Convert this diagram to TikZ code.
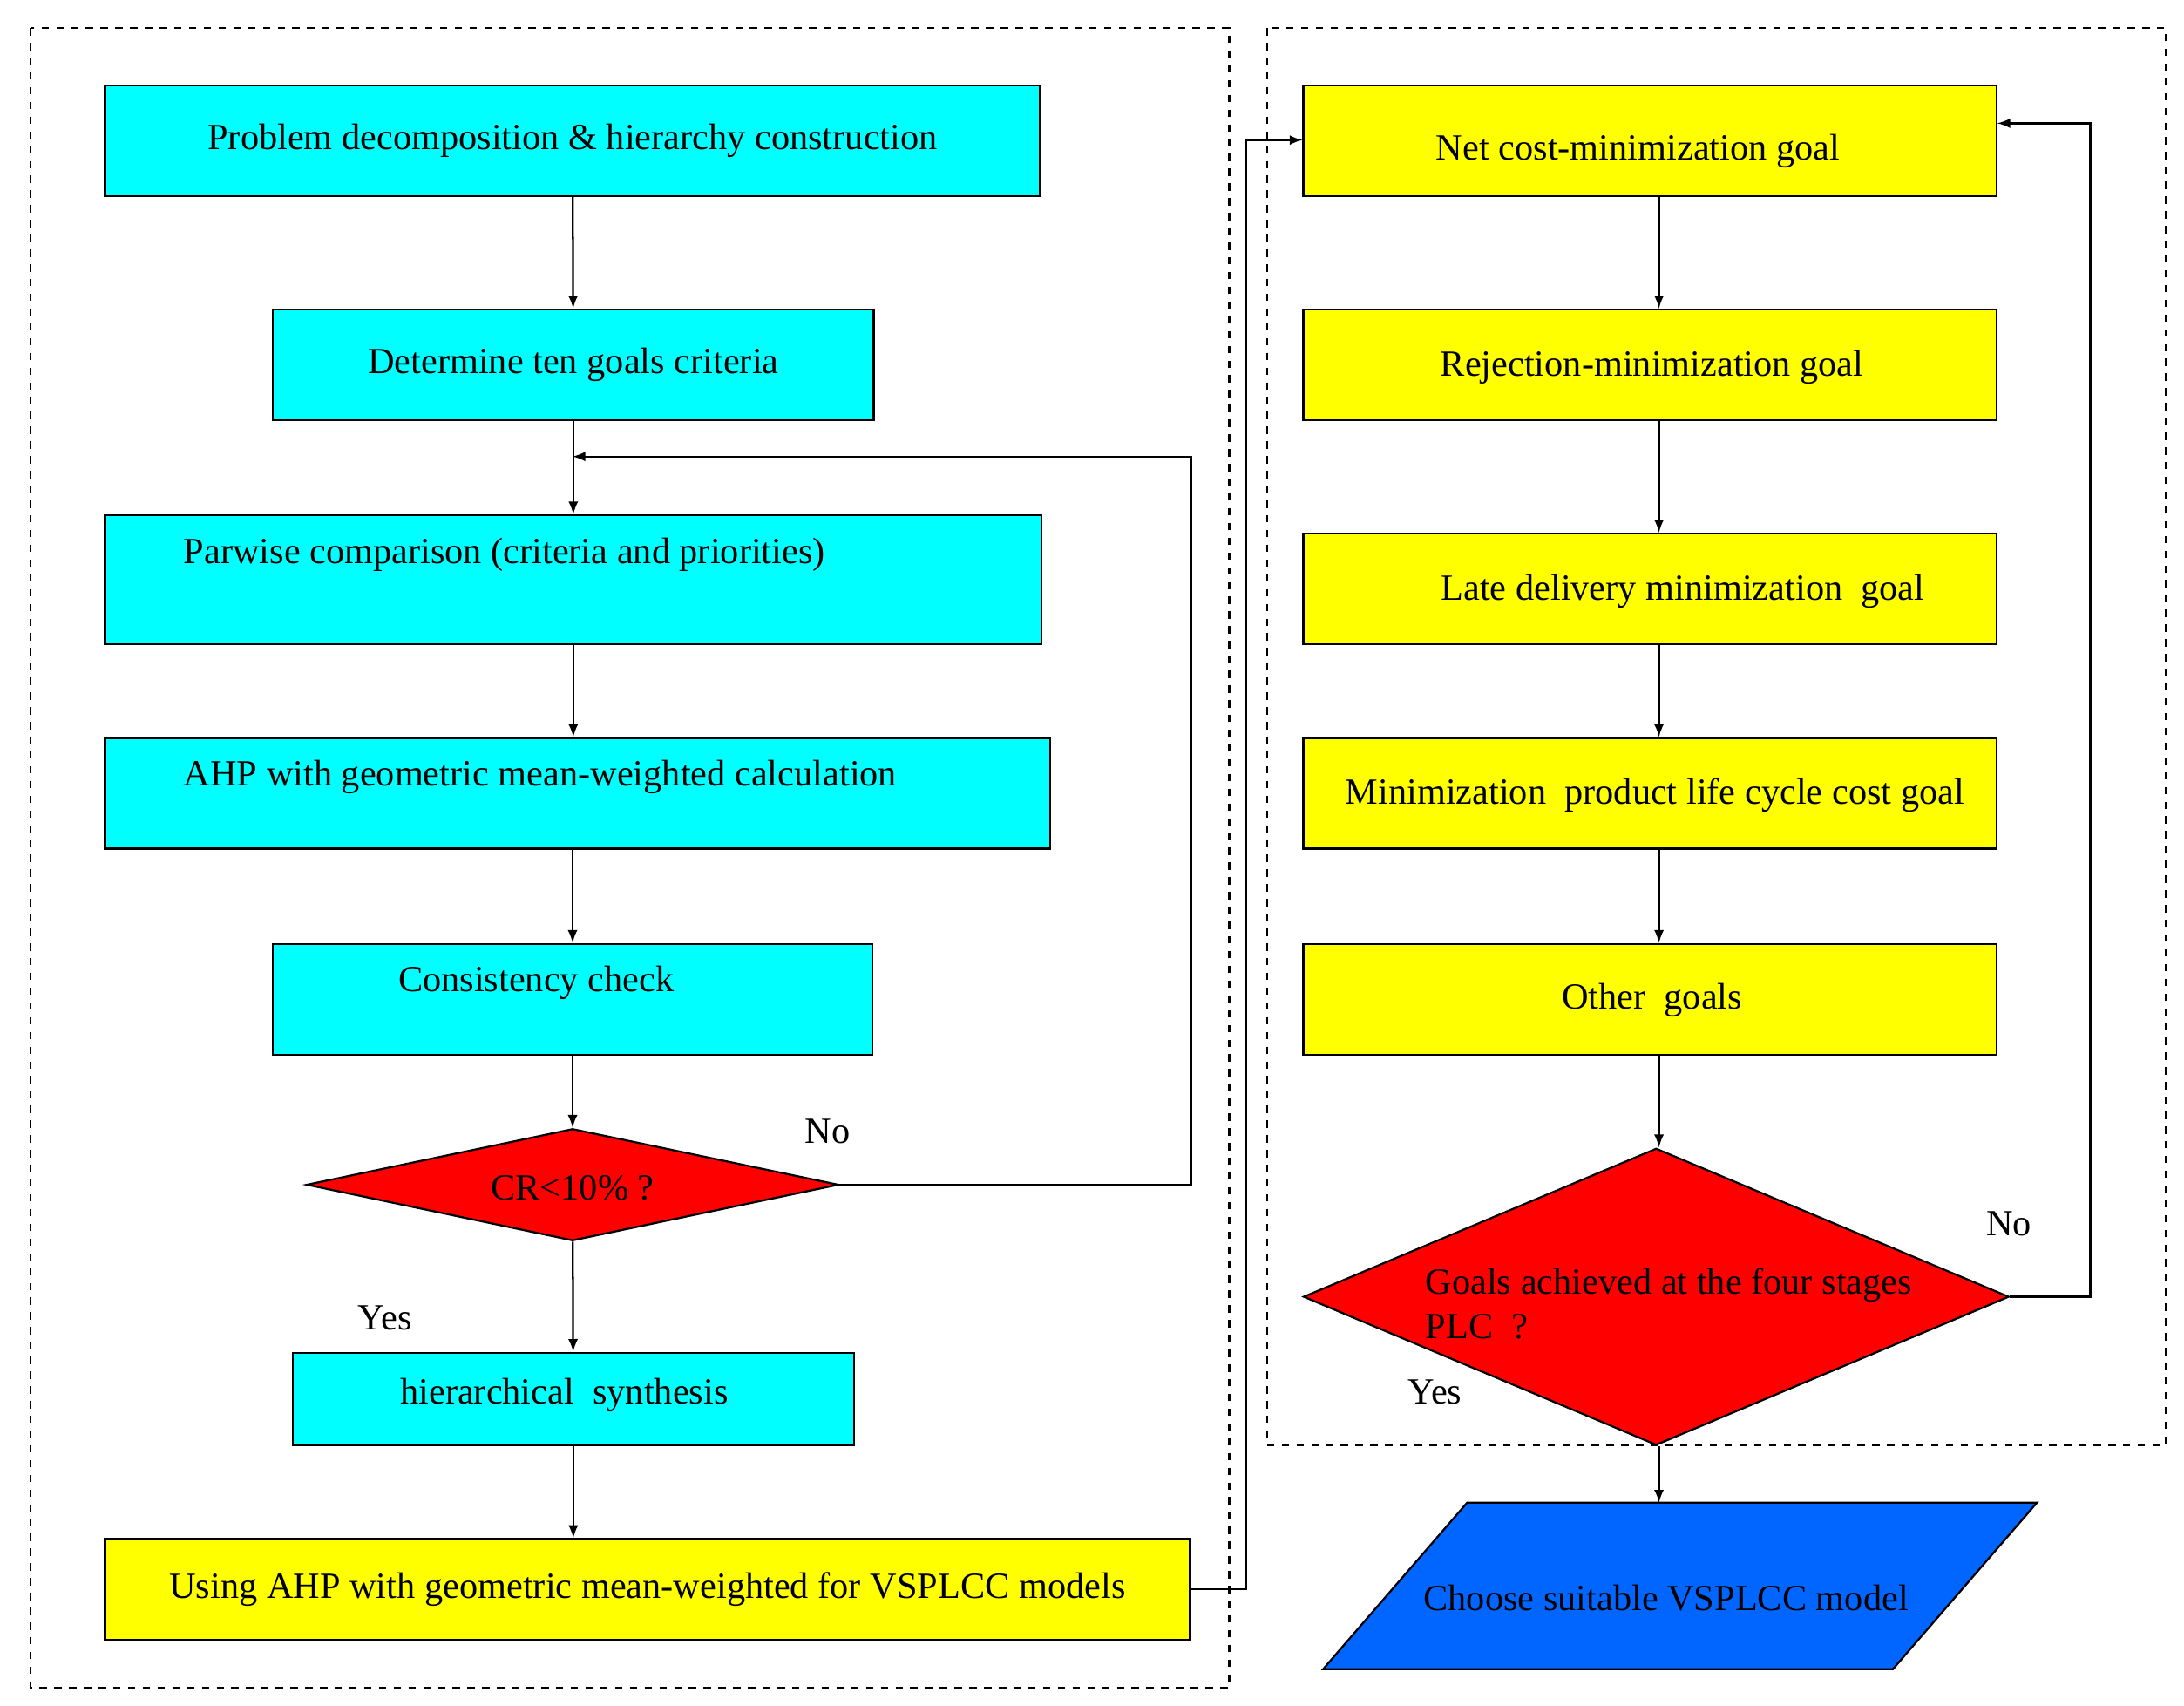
\documentclass[tikz,border=0pt]{standalone}
\usepackage{fontspec}
\setmainfont{Liberation Serif}
\usetikzlibrary{arrows, shapes.geometric, calc}
\definecolor{flow-cyan}{RGB}{0,255,255}
\definecolor{flow-yellow}{RGB}{255,255,0}
\definecolor{flow-red}{RGB}{255,0,0}
\definecolor{flow-blue}{RGB}{0,102,255}

\begin{document}
\begin{tikzpicture}[x=0.02cm, y=-0.02cm,
	every node/.style={font=\fontsize{15}{18}\selectfont},
	box/.style={draw, thick, inner sep=0pt},
	link/.style={->, >=latex, thick},
	frame/.style={draw, thick, dashed}]
	\useasboundingbox (0,0) rectangle (1560,1218);
	% frames
	\draw[frame] (22,20) rectangle (878,1205);
	\draw[frame] (905,20) rectangle (1547,1032);
	% left column
	\node[box, fill=flow-cyan, minimum width=668*0.02cm, minimum height=79*0.02cm] (decomp) at (409,100.5) {Problem decomposition \& hierarchy construction};
	\node[box, fill=flow-cyan, minimum width=429*0.02cm, minimum height=79*0.02cm] (criteria) at (409.5,260.5) {Determine ten goals criteria};
	\node[box, fill=flow-cyan, minimum width=669*0.02cm, minimum height=92*0.02cm] (pairwise) at (409.5,414) {};
	\node[anchor=west] at (125,396) {Parwise comparison (criteria and priorities)};
	\node[box, fill=flow-cyan, minimum width=675*0.02cm, minimum height=79*0.02cm] (ahp) at (412.5,566.5) {};
	\node[anchor=west] at (125,555) {AHP with geometric mean-weighted calculation};
	\node[box, fill=flow-cyan, minimum width=428*0.02cm, minimum height=79*0.02cm] (check) at (409,713.5) {};
	\node at (383,702) {Consistency check};
	\node[diamond, draw, thick, fill=flow-red, aspect=4.75, minimum width=380*0.02cm, minimum height=80*0.02cm, inner sep=0pt] (cr) at (409,846) {};
	\node at (409,848) {CR<10\% ?};
	\node[box, fill=flow-cyan, minimum width=401*0.02cm, minimum height=66*0.02cm] (synth) at (409.5,999) {};
	\node at (403,996) {hierarchical\ \ synthesis};
	\node[box, fill=flow-yellow, minimum width=775*0.02cm, minimum height=72*0.02cm] (using) at (462.5,1135) {Using AHP with geometric mean-weighted for VSPLCC models};
	% right column
	\node[box, fill=flow-yellow, minimum width=495*0.02cm, minimum height=79*0.02cm] (netcost) at (1178.5,100.5) {};
	\node at (1170,108) {Net cost-minimization goal};
	\node[box, fill=flow-yellow, minimum width=495*0.02cm, minimum height=79*0.02cm] (reject) at (1178.5,260.5) {};
	\node at (1180,262) {Rejection-minimization goal};
	\node[box, fill=flow-yellow, minimum width=495*0.02cm, minimum height=79*0.02cm] (late) at (1178.5,420.5) {};
	\node at (1202,422) {Late delivery minimization\ \ goal};
	\node[box, fill=flow-yellow, minimum width=495*0.02cm, minimum height=79*0.02cm] (plcc) at (1178.5,566.5) {};
	\node at (1182,568) {Minimization\ \ product life cycle cost goal};
	\node[box, fill=flow-yellow, minimum width=495*0.02cm, minimum height=79*0.02cm] (other) at (1178.5,713.5) {};
	\node at (1180,714) {Other\ \ goals};
	\node[diamond, draw, thick, fill=flow-red, aspect=2.38, minimum width=504*0.02cm, minimum height=212*0.02cm, inner sep=0pt] (goals) at (1183,926) {};
	\node[anchor=west, align=left] at (1012,931) {Goals achieved at the four stages\\PLC\ \ ?};
	\draw[thick, fill=flow-blue] (945,1192) -- (1048,1073) -- (1455,1073) -- (1352,1192) -- cycle;
	\coordinate (choosetop) at (1185,1073);
	\node at (1190,1141) {Choose suitable VSPLCC model};
	% labels
	\node at (591,808) {No};
	\node at (275,941) {Yes};
	\node at (1435,874) {No};
	\node at (1025,994) {Yes};
	% connectors
	\draw[link] (decomp) -- (criteria);
	\draw[link] (criteria) -- (pairwise);
	\draw[link] (pairwise) -- (ahp.north -| pairwise);
	\draw[link] (ahp.south -| check) -- (check);
	\draw[link] (check) -- (cr);
	\draw[link] (cr) -- (synth);
	\draw[link] (synth) -- (synth |- using.north);
	\draw[link] (cr.east) -- (851,846) -- (851,326) -- (409,326);
	\draw[link] (using.east) -- (890,1135) -- (890,100) -- (netcost.west |- 0,100);
	\draw[link] (netcost.south -| 1185,0) -- (reject.north -| 1185,0);
	\draw[link] (reject.south -| 1185,0) -- (late.north -| 1185,0);
	\draw[link] (late.south -| 1185,0) -- (plcc.north -| 1185,0);
	\draw[link] (plcc.south -| 1185,0) -- (other.north -| 1185,0);
	\draw[link] (other.south -| 1185,0) -- (goals.north -| 1185,0);
	\draw[link] (goals.east) -- (1493,926) -- (1493,88) -- (netcost.east |- 0,88);
	\draw[link] (goals.south -| 1185,0) -- (choosetop);
\end{tikzpicture}
\end{document}
